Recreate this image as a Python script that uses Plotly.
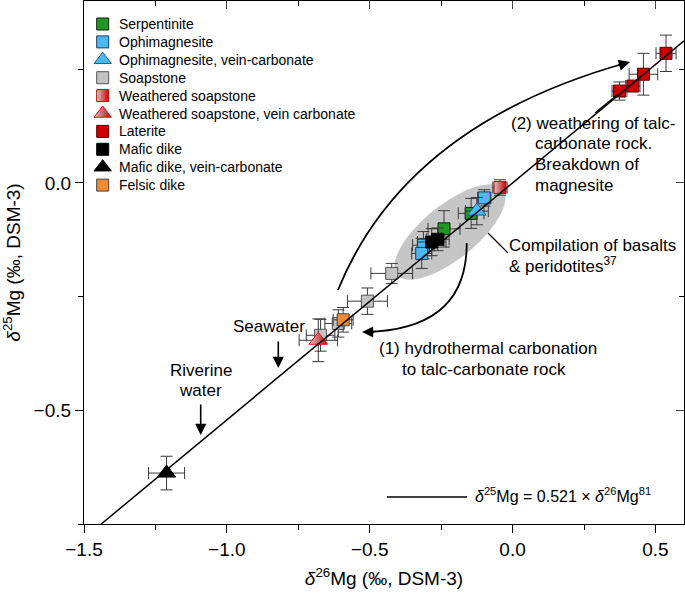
import numpy as np
import plotly.graph_objects as go

# ---------------- data (δ26Mg, δ25Mg, 2SD) ----------------
serp_x = [-0.145, -0.240]
serp_y = [-0.067, -0.101]
serp_ex = [0.045, 0.056]
serp_ey = [0.033, 0.040]

ophi_x = [-0.099, -0.312, -0.318]
ophi_y = [-0.033, -0.137, -0.155]
ophi_ex = [0.023, 0.038, 0.035]
ophi_ey = [0.018, 0.030, 0.033]

ophiv_x = [-0.125]
ophiv_y = [-0.062]
ophiv_ex = [0.040]
ophiv_ey = [0.030]

soap_x = [-0.423, -0.508, -0.610, -0.672]
soap_y = [-0.199, -0.260, -0.309, -0.335]
soap_ex = [0.073, 0.070, 0.047, 0.050]
soap_ey = [0.022, 0.029, 0.030, 0.035]

wsoap_x = [-0.044]
wsoap_y = [-0.010]
wsoap_ex = [0.025]
wsoap_ey = [0.017]

wsoapv_x = [-0.680]
wsoapv_y = [-0.346]
wsoapv_ex = [0.067]
wsoapv_ey = [0.047]

lat_x = [0.537, 0.458, 0.421, 0.374]
lat_y = [0.285, 0.239, 0.213, 0.202]
lat_ex = [0.035, 0.050, 0.025, 0.026]
lat_ey = [0.040, 0.046, 0.012, 0.020]

maf_x = [-0.283, -0.262]
maf_y = [-0.130, -0.124]
maf_ex = [0.050, 0.040]
maf_ey = [0.030, 0.025]

mafv_x = [-1.211]
mafv_y = [-0.638]
mafv_ex = [0.063]
mafv_ey = [0.037]

fel_x = [-0.593]
fel_y = [-0.301]
fel_ex = [0.035]
fel_ey = [0.027]

slope = 0.521
line_x = [-1.5, 0.6]

x_ticks = [-1.5, -1.0, -0.5, 0.0, 0.5]
y_ticks = [-0.5, 0.0]
X_RANGE = [-1.5, 0.6]
Y_RANGE = [-0.75, 0.4]

FONT = "Liberation Sans, Arial, Helvetica, sans-serif"
ERRC = "#3a3a3a"

# plot-area geometry in pixels; an invisible overlay axis pair (x3/y3) uses
# pixel units so that the decorations and the key can be placed precisely
W, H = 685, 598
L, R, T, B = 84, 684, 1, 524

fig = go.Figure()

groups = []
def add_group(name, xs, ys, ex, ey, symbol, color, lcolor, size=12, gradient=None, lw=1):
    marker = dict(symbol=symbol, size=size, color=color, line=dict(color=lcolor, width=lw))
    if gradient:
        marker["gradient"] = dict(type="horizontal", color=gradient)
    groups.append((name, marker))
    fig.add_trace(go.Scatter(
        x=xs, y=ys, mode="markers", name=name, marker=marker, showlegend=False,
        error_x=dict(type="data", array=ex, color=ERRC, thickness=1, width=6),
        error_y=dict(type="data", array=ey, color=ERRC, thickness=1, width=6),
        hoverinfo="x+y+name"))

add_group("Serpentinite", serp_x, serp_y, serp_ex, serp_ey, "square", "#1e9a22", "#1a1a1a")
add_group("Ophimagnesite", ophi_x, ophi_y, ophi_ex, ophi_ey, "square", "#4cb8f2", "#1c3c5c")
add_group("Ophimagnesite, vein-carbonate", ophiv_x, ophiv_y, ophiv_ex, ophiv_ey,
          "triangle-up", "#4cb8f2", "#1a5d9a", size=16)
add_group("Soapstone", soap_x, soap_y, soap_ex, soap_ey, "square", "#c2c2c2", "#555555")
add_group("Weathered soapstone", wsoap_x, wsoap_y, wsoap_ex, wsoap_ey, "square", "#d8c8c8",
          "#cc0000", gradient="#cc0000")
add_group("Weathered soapstone, vein carbonate", wsoapv_x, wsoapv_y, wsoapv_ex, wsoapv_ey,
          "triangle-up", "#d8c8c8", "#dd1111", size=16, gradient="#cc0000")
add_group("Laterite", lat_x, lat_y, lat_ex, lat_ey, "square", "#cc0000", "#5a0000")
add_group("Mafic dike", maf_x, maf_y, maf_ex, maf_ey, "square", "#000000", "#000000")
add_group("Mafic dike, vein-carbonate", mafv_x, mafv_y, mafv_ex, mafv_ey,
          "triangle-up", "#000000", "#000000", size=16)
add_group("Felsic dike", fel_x, fel_y, fel_ex, fel_ey, "square", "#f08a34", "#444444")

# mass-dependent fractionation line
fig.add_trace(go.Scatter(x=line_x, y=[slope * v for v in line_x], mode="lines",
                         line=dict(color="black", width=1.5), showlegend=False,
                         hoverinfo="skip"))

# dummy trace for top/right mirrored axes
fig.add_trace(go.Scatter(x=[None], y=[None], xaxis="x2", yaxis="y2",
                         showlegend=False, hoverinfo="skip"))

# ---------------- key (legend) in pixel overlay ----------------
LEG_MX, LEG_TX, LEG_Y0, LEG_DY = 102.7, 116.5, 24.0, 17.9
ann = []
for i, (name, marker) in enumerate(groups):
    yy = LEG_Y0 + i * LEG_DY
    m = dict(marker)
    if m["symbol"] == "triangle-up":
        m["size"] = 15
    fig.add_trace(go.Scatter(x=[LEG_MX], y=[yy], xaxis="x3", yaxis="y3", mode="markers",
                             marker=m, showlegend=False, hoverinfo="skip"))
    ann.append(dict(x=LEG_TX, y=yy, xref="x3", yref="y3", text=name, showarrow=False,
                    xanchor="left", yanchor="middle",
                    font=dict(size=14, family=FONT, color="black")))

shapes = []
# grey ellipse (compilation of basalts & peridotites)
cx, cy, a, b, ang = 450, 232, 68, 27, np.deg2rad(39)
t = np.linspace(0, 2 * np.pi, 73)
ex_px = cx + a * np.cos(t) * np.cos(ang) - b * np.sin(t) * np.sin(ang)
ey_px = cy - (a * np.cos(t) * np.sin(ang) + b * np.sin(t) * np.cos(ang))
path = "M " + " L ".join(f"{u:.2f},{v:.2f}" for u, v in zip(ex_px, ey_px)) + " Z"
shapes.append(dict(type="path", path=path, xref="x3", yref="y3", fillcolor="#c6c6c6",
                   line=dict(width=0), layer="below"))

# curved arrow (2)
shapes.append(dict(type="path", xref="x3", yref="y3",
                   path="M 338,290 Q 405,125 626,63",
                   line=dict(color="black", width=1.8)))
# curved arrow (1)
shapes.append(dict(type="path", xref="x3", yref="y3",
                   path="M 466.7,243 C 467,290 445,330 366,332",
                   line=dict(color="black", width=1.8)))
# pointer lines
shapes.append(dict(type="line", xref="x3", yref="y3", x0=488, y0=233, x1=508, y1=253,
                   line=dict(color="black", width=1.3)))
shapes.append(dict(type="line", xref="x3", yref="y3", x0=595, y0=113, x1=617, y1=95,
                   line=dict(color="black", width=1.3)))
# equation key line
shapes.append(dict(type="line", xref="x3", yref="y3", x0=387, y0=497, x1=467, y1=497,
                   line=dict(color="black", width=1.5)))

def txt(s, px, py, xanchor="center", size=17):
    ann.append(dict(x=px, y=py, xref="x3", yref="y3", text=s, showarrow=False,
                    xanchor=xanchor, yanchor="middle",
                    font=dict(size=size, color="black", family=FONT)))

def arrow(tipx, tipy, ax, ay):
    ann.append(dict(x=tipx, y=tipy, xref="x3", yref="y3", ax=ax, ay=ay,
                    axref="pixel", ayref="pixel", text="", showarrow=True, arrowhead=2,
                    arrowsize=1.4, arrowwidth=1.6, arrowcolor="black"))

txt("Seawater", 269, 326)
arrow(278.3, 368, 0, -28)
txt("Riverine", 200.7, 370.7)
txt("water", 200.7, 390)
arrow(200.7, 435, 0, -32)
txt("(1) hydrothermal carbonation", 487.7, 348)
txt("to talc-carbonate rock", 484, 369)
txt("(2) weathering of talc-", 508.5, 123.3, xanchor="left")
txt("carbonate rock.", 533, 143.3, xanchor="left")
txt("Breakdown of", 533, 164, xanchor="left")
txt("magnesite", 533, 185, xanchor="left")
txt("Compilation of basalts", 507, 245, xanchor="left")
txt("&amp; peridotites<sup>37</sup>", 507, 265, xanchor="left")
txt("<i>δ</i><sup>25</sup>Mg = 0.521 × <i>δ</i><sup>26</sup>Mg<sup>81</sup>", 473, 495,
    xanchor="left", size=16)
arrow(630, 62, -13.5, 3.8)
arrow(362, 332, 14, 0)

axis_common = dict(showgrid=False, zeroline=False, showline=True, linecolor="black",
                   linewidth=1.2, ticklen=8, tickwidth=1.2, tickcolor="black",
                   automargin=False, tickformat=".1f",
                   tickfont=dict(size=19, family=FONT, color="black"))

fig.update_layout(
    width=W, height=H,
    margin=dict(l=L, r=W - R, t=T, b=H - B, autoexpand=False),
    paper_bgcolor="white", plot_bgcolor="white",
    font=dict(family=FONT, color="black"),
    showlegend=False,
    xaxis=dict(range=X_RANGE, tickvals=x_ticks, ticks="outside",
               minor=dict(dtick=0.25, ticklen=5, ticks="outside", tickcolor="black"),
               title=dict(text="<i>δ</i><sup>26</sup>Mg (‰, DSM-3)",
                          font=dict(size=19, family=FONT), standoff=12),
               **axis_common),
    yaxis=dict(range=Y_RANGE, tickvals=y_ticks, ticks="outside",
               minor=dict(dtick=0.25, ticklen=5, ticks="outside", tickcolor="black"),
               title=dict(text="<i>δ</i><sup>25</sup>Mg (‰, DSM-3)",
                          font=dict(size=19, family=FONT), standoff=12),
               **axis_common),
    xaxis2=dict(range=X_RANGE, overlaying="x", side="top", anchor="y2", tickvals=x_ticks,
                ticks="inside", showticklabels=False, showgrid=False, zeroline=False,
                showline=True, linecolor="black", linewidth=1.2, ticklen=8, tickwidth=1.2,
                automargin=False,
                minor=dict(dtick=0.25, ticklen=5, ticks="inside", tickcolor="black")),
    yaxis2=dict(range=Y_RANGE, overlaying="y", side="right", anchor="x2", tickvals=y_ticks,
                ticks="inside", showticklabels=False, showgrid=False, zeroline=False,
                showline=True, linecolor="black", linewidth=1.2, ticklen=8, tickwidth=1.2,
                automargin=False,
                minor=dict(dtick=0.25, ticklen=5, ticks="inside", tickcolor="black")),
    xaxis3=dict(range=[L, R], overlaying="x", anchor="y3", visible=False,
                automargin=False, fixedrange=True),
    yaxis3=dict(range=[B, T], overlaying="y", anchor="x3", visible=False,
                automargin=False, fixedrange=True),
    shapes=shapes,
    annotations=ann,
)

fig.write_html("out.html", config={"displayModeBar": False},
               post_script="document.body.style.margin='0px';"
                           "document.body.style.overflow='hidden';")
